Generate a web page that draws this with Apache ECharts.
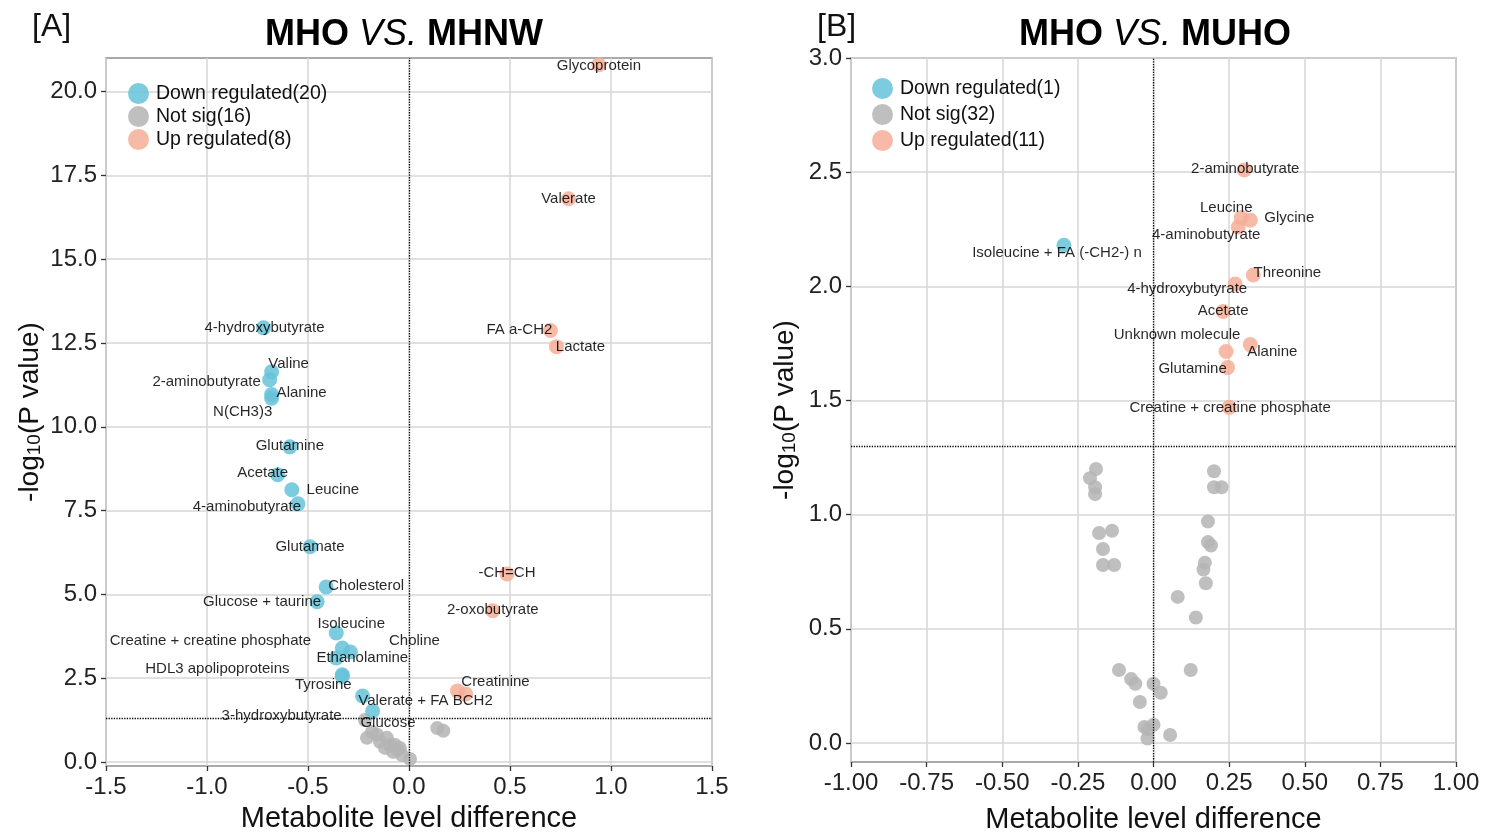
<!DOCTYPE html>
<html>
<head>
<meta charset="utf-8">
<script src="https://cdn.jsdelivr.net/npm/echarts@6/dist/echarts.min.js"></script>
<style>
html,body{margin:0;padding:0;background:#fff;}
#chart{width:1499px;height:834px;}
</style>
</head>
<body>
<div id="chart"></div>
<script>
// ---------------- DATA ----------------
// Panel A: MHO vs MHNW
const aDownNames = ['4-hydroxybutyrate','Valine','2-aminobutyrate','Alanine','N(CH3)3','Glutamine','Acetate','Leucine','4-aminobutyrate','Glutamate','Cholesterol','Glucose + taurine','Isoleucine','Creatine + creatine phosphate','Choline','Ethanolamine','HDL3 apolipoproteins','Tyrosine','Valerate + FA BCH2','3-hydroxybutyrate'];
const aDownX = [-0.72,-0.68,-0.69,-0.68,-0.68,-0.59,-0.65,-0.58,-0.55,-0.49,-0.41,-0.455,-0.36,-0.33,-0.29,-0.36,-0.33,-0.33,-0.23,-0.18];
const aDownY = [12.95,11.64,11.40,10.96,10.85,9.40,8.57,8.12,7.70,6.42,5.22,4.78,3.85,3.40,3.28,3.10,2.60,2.55,1.97,1.52];

const aNsNames = ['Glucose','','','','','','','','','','','','','','',''];
const aNsX = [-0.218,-0.208,-0.183,-0.158,-0.144,-0.119,-0.109,-0.079,-0.069,-0.054,-0.045,-0.035,0.005,0.14,0.17,-0.094];
const aNsY = [1.25,0.72,0.90,0.81,0.60,0.42,0.72,0.30,0.51,0.36,0.42,0.21,0.09,1.01,0.93,0.50];

const aUpNames = ['Glycoprotein','Valerate','FA a-CH2','Lactate','-CH=CH','2-oxobutyrate','Creatinine',''];
const aUpX = [0.94,0.79,0.70,0.73,0.485,0.415,0.24,0.28];
const aUpY = [20.8,16.8,12.87,12.39,5.61,4.51,2.12,2.03];

// Panel B: MHO vs MUHO
const bDownNames = ['Isoleucine + FA (-CH2-) n'];
const bDownX = [-0.296];
const bDownY = [2.18];

const bNsX = [-0.19,-0.21,-0.193,-0.193,-0.18,-0.137,-0.167,-0.167,-0.13,0.08,0.14,-0.114,-0.074,-0.06,0.0,0.024,-0.045,0.123,-0.03,0.0,-0.018,-0.02,0.055,0.20,0.20,0.225,0.18,0.18,0.19,0.17,0.165,0.173];
const bNsY = [1.20,1.16,1.12,1.09,0.92,0.93,0.85,0.78,0.78,0.64,0.55,0.32,0.28,0.26,0.26,0.22,0.18,0.32,0.07,0.08,0.06,0.02,0.035,1.19,1.12,1.12,0.97,0.88,0.865,0.79,0.76,0.70];

const bUpNames = ['2-aminobutyrate','Leucine','Glycine','4-aminobutyrate','Threonine','4-hydroxybutyrate','Acetate','Alanine','Unknown molecule','Glutamine','Creatine + creatine phosphate'];
const bUpX = [0.30,0.29,0.32,0.28,0.33,0.27,0.23,0.32,0.24,0.245,0.25];
const bUpY = [2.51,2.30,2.29,2.26,2.05,2.01,1.89,1.745,1.715,1.645,1.47];

// Tick labels
const aYTicks = [0,2.5,5,7.5,10,12.5,15,17.5,20];
const bYTicks = [0,0.5,1,1.5,2,2.5,3];
const pThreshold = 1.3;

// Legend names
const aLegend = ['Down regulated(20)','Not sig(16)','Up regulated(8)'];
const bLegend = ['Down regulated(1)','Not sig(32)','Up regulated(11)'];

// ---------------- LAYOUT / STYLE ----------------
const labelOffsetA = {
  'Glycoprotein':[0,1],'Valerate':[0,0],'FA a-CH2':[-31,-1],'Lactate':[24,0],'-CH=CH':[0,-1],
  '2-oxobutyrate':[0,-1],'Creatinine':[38,-9],'4-hydroxybutyrate':[1,0],'Valine':[17,-8],
  '2-aminobutyrate':[-63,2],'Alanine':[30,-2],'N(CH3)3':[-29,14],'Glutamine':[0,-1],'Acetate':[-15,-2],
  'Leucine':[41,0],'4-aminobutyrate':[-51,3],'Glutamate':[0,0],'Cholesterol':[40,-1],
  'Glucose + taurine':[-55,0],'Isoleucine':[15,-9],'Creatine + creatine phosphate':[-132,-7],
  'Choline':[64,-11],'Ethanolamine':[26,0],'HDL3 apolipoproteins':[-125,-6],'Tyrosine':[-19,8],
  'Valerate + FA BCH2':[63,5],'3-hydroxybutyrate':[-91,5],'Glucose':[23,3]
};
const labelOffsetB = {
  '2-aminobutyrate':[1,-1],'Leucine':[-15,-10],'Glycine':[39,-2],'4-aminobutyrate':[-32,8],
  'Isoleucine + FA (-CH2-) n':[-7,8],'Threonine':[34,-2],'4-hydroxybutyrate':[-48,5],'Acetate':[0,-1],
  'Unknown molecule':[-49,-17],'Alanine':[22,7],'Glutamine':[-35,1],'Creatine + creatine phosphate':[1,0]
};
const COL_DOWN = '#66c2d9', COL_NS = '#b4b4b4', COL_UP = '#f4ae98';
const FONT = '"Liberation Sans", Arial, sans-serif';

function pts(names, xs, ys, offsets) {
  return xs.map((x, i) => {
    const nm = names ? names[i] : '';
    return {
      value: [x, ys[i]],
      name: nm,
      label: { show: !!nm, offset: (nm && offsets[nm]) || [0, 0] }
    };
  });
}

function scatter(name, data, color, xi, yi, extra) {
  return Object.assign({
    type: 'scatter', name: name, xAxisIndex: xi, yAxisIndex: yi,
    data: data, symbolSize: 15,
    itemStyle: { color: color, opacity: 0.85 },
    label: { show: true, position: 'inside', formatter: '{b}', color: '#000', fontSize: 15, fontFamily: FONT, textBorderWidth: 0 },
    emphasis: { disabled: true }
  }, extra || {});
}

function refLines() {
  return {
    silent: true, symbol: 'none', animation: false,
    lineStyle: { type: 'dotted', color: '#000', width: 1.3 },
    label: { show: false },
    data: [{ xAxis: 0 }, { yAxis: pThreshold }]
  };
}

const tickLabel = { color: '#222', fontSize: 24, fontFamily: FONT };
const gridLine = { show: true, lineStyle: { color: '#d6d6d6', width: 1.5 } };
const yName = '{a|-log}{s|10}{a|(P value)}';
const yNameStyle = {
  color: '#111', fontFamily: FONT,
  rich: {
    a: { fontSize: 28, fontFamily: FONT, color: '#111', verticalAlign: 'bottom', lineHeight: 34 },
    s: { fontSize: 19, fontFamily: FONT, color: '#111', verticalAlign: 'bottom', lineHeight: 30 }
  }
};

function xAxisCfg(gi, min, max, interval, dec, gap) {
  return {
    type: 'value', gridIndex: gi, min: min, max: max, interval: interval,
    name: 'Metabolite level difference', nameLocation: 'middle', nameGap: gap,
    nameTextStyle: { color: '#111', fontSize: 29, fontFamily: FONT },
    axisLine: { show: false, onZero: false },
    axisTick: { show: true, length: 5, lineStyle: { color: '#333', width: 1.3 } },
    axisLabel: { ...tickLabel, margin: 9, showMinLabel: true, showMaxLabel: true, formatter: v => v.toFixed(dec) },
    splitLine: gridLine
  };
}
function yAxisCfg(gi, min, max, ticks, gap) {
  return {
    type: 'value', gridIndex: gi, min: min, max: max,
    name: yName, nameLocation: 'middle', nameGap: gap, nameRotate: 90,
    nameTextStyle: yNameStyle,
    axisLine: { show: false, onZero: false },
    axisTick: { show: true, length: 5, customValues: ticks, lineStyle: { color: '#333', width: 1.3 } },
    axisLabel: { ...tickLabel, margin: 9, customValues: ticks, formatter: v => v.toFixed(1) },
    splitLine: gridLine
  };
}

const option = {
  animation: false,
  backgroundColor: '#fff',
  textStyle: { fontFamily: FONT },
  grid: [
    { left: 106, right: 787, top: 58, bottom: 68, show: true, borderColor: '#8f8f8f', borderWidth: 1.5, backgroundColor: 'transparent', outerBoundsMode: 'none', containLabel: false },
    { left: 851, right: 43, top: 58, bottom: 72, show: true, borderColor: '#8f8f8f', borderWidth: 1.5, backgroundColor: 'transparent', outerBoundsMode: 'none', containLabel: false }
  ],
  xAxis: [ xAxisCfg(0, -1.5, 1.5, 0.5, 1, 38), xAxisCfg(1, -1, 1, 0.25, 2, 43) ],
  yAxis: [ yAxisCfg(0, -0.12, 21.0, aYTicks, 62), yAxisCfg(1, -0.083, 3.0, bYTicks, 52) ],
  legend: [
    {
      data: aLegend, orient: 'vertical', left: 123, top: 78, itemWidth: 21, itemHeight: 21, itemGap: 2,
      icon: 'circle', textStyle: { color: '#111', fontSize: 19.5, fontFamily: FONT, padding: [0, 0, 0, 2] },
      selectedMode: false
    },
    {
      data: bLegend, orient: 'vertical', left: 867, top: 73, itemWidth: 21, itemHeight: 21, itemGap: 5,
      icon: 'circle', textStyle: { color: '#111', fontSize: 19.5, fontFamily: FONT, padding: [0, 0, 0, 2] },
      selectedMode: false
    }
  ],
  graphic: [
    { type: 'text', left: 32, top: 11, style: { text: '[A]', font: '32px ' + FONT, fill: '#111' } },
    { type: 'text', left: 817, top: 11, style: { text: '[B]', font: '32px ' + FONT, fill: '#111' } },
    { type: 'text', x: 404, y: 35, style: {
        text: '{b|MHO }{i|VS.}{b| MHNW}', align: 'center', verticalAlign: 'middle',
        rich: { b: { fontSize: 36, fontWeight: 'bold', fontFamily: FONT, fill: '#000' },
                i: { fontSize: 36, fontStyle: 'italic', fontFamily: FONT, fill: '#000' } } } },
    { type: 'text', x: 1155, y: 35, style: {
        text: '{b|MHO }{i|VS.}{b| MUHO}', align: 'center', verticalAlign: 'middle',
        rich: { b: { fontSize: 36, fontWeight: 'bold', fontFamily: FONT, fill: '#000' },
                i: { fontSize: 36, fontStyle: 'italic', fontFamily: FONT, fill: '#000' } } } }
  ],
  series: [
    scatter(aLegend[1], pts(aNsNames, aNsX, aNsY, labelOffsetA), COL_NS, 0, 0, { markLine: refLines(), symbolSize: 14 }),
    scatter(aLegend[0], pts(aDownNames, aDownX, aDownY, labelOffsetA), COL_DOWN, 0, 0),
    scatter(aLegend[2], pts(aUpNames, aUpX, aUpY, labelOffsetA), COL_UP, 0, 0),
    scatter(bLegend[1], pts(null, bNsX, bNsY, labelOffsetB), COL_NS, 1, 1, { markLine: refLines(), symbolSize: 14 }),
    scatter(bLegend[0], pts(bDownNames, bDownX, bDownY, labelOffsetB), COL_DOWN, 1, 1),
    scatter(bLegend[2], pts(bUpNames, bUpX, bUpY, labelOffsetB), COL_UP, 1, 1)
  ]
};

const chart = echarts.init(document.getElementById('chart'), null, { renderer: 'canvas' });
chart.setOption(option);
</script>
</body>
</html>
